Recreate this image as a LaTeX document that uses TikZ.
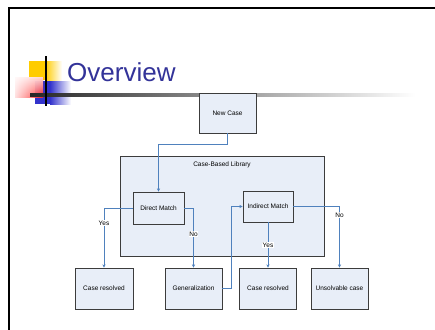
\documentclass[tikz,border=0pt]{standalone}
\usepackage{fontspec}
\setmainfont{Liberation Sans}
\usetikzlibrary{arrows.meta,fadings}
\definecolor{boxfill}{RGB}{232,238,248}
\definecolor{boxline}{RGB}{60,60,60}
\definecolor{flow}{RGB}{79,129,189}
\definecolor{titleblue}{RGB}{51,51,153}
\definecolor{decoyellow}{RGB}{255,204,0}
\definecolor{decored}{RGB}{255,30,30}
\definecolor{decoblue}{RGB}{51,51,204}
\tikzset{
  stepbox/.style={draw=boxline, line width=0.9pt, fill=boxfill, font=\fontsize{6.5}{7.5}\selectfont,
    inner sep=0pt, align=center},
  conn/.style={draw=flow, line width=0.9pt, -{Stealth[length=3.2pt,width=3.2pt]}},
  lbl/.style={fill=white, inner sep=0.6pt, font=\fontsize{6.5}{7.5}\selectfont, text=black},
}
\begin{document}
\begin{tikzpicture}[x=1pt,y=-1pt]
\useasboundingbox (0,0) rectangle (435,329);
\fill[white] (0,0) rectangle (435,329);

% slide frame
\draw[line width=2pt, line cap=rect] (8.5,329) -- (8.5,8.5) -- (435,8.5);

% title decoration
\fill[decoyellow] (29,61) rectangle (45,80);
\shade[left color=decoyellow, right color=white] (45,61) rectangle (62,80);
\fill[decoblue] (35,81) rectangle (50,104);
\shade[left color=decoblue, right color=white] (50,81) rectangle (71,104);
\shade[left color=decored!15, right color=decored, opacity=0.9] (15,77) rectangle (43,97);
\fill[white, path fading=south, opacity=0.8] (15,77) rectangle (43,97);
\shade[left color=black!85, middle color=black!45, right color=white] (30,93) rectangle (415,96);
\draw[line width=1.3pt] (46,56) -- (46,106);

\node[anchor=base west, text=titleblue, font=\fontsize{26}{30}\selectfont, inner sep=0pt]
  (title) at (67,81.5) {Overview};

% library frame
\node[stepbox, minimum width=204pt, minimum height=100pt] (lib) at (222,206) {};
\node[font=\fontsize{6.5}{7.5}\selectfont, inner sep=0pt] (libtitle) at (222,165) {Case-Based Library};

% process boxes
\node[stepbox, minimum width=57pt, minimum height=40pt] (newcase) at (227.5,113) {New Case};
\node[stepbox, minimum width=51pt, minimum height=32pt] (direct) at (158.5,208) {Direct Match};
\node[stepbox, minimum width=50pt, minimum height=31pt] (indirect) at (268,206.5) {Indirect Match};
\node[stepbox, minimum width=58pt, minimum height=41pt] (cr1) at (104,288.5) {Case resolved};
\node[stepbox, minimum width=57pt, minimum height=41pt] (gen) at (193.5,288.5) {Generalization};
\node[stepbox, minimum width=57pt, minimum height=41pt] (cr2) at (268,288.5) {Case resolved};
\node[stepbox, minimum width=57pt, minimum height=41pt] (uns) at (339.5,288.5) {Unsolvable case};

% connectors
\draw[conn] (newcase.south) -- ++(0,11) -| (direct.north);
\draw[conn] (direct.west) -| node[lbl, pos=0.625] (yes1) {Yes} (cr1.north);
\draw[conn] (direct.east) -| node[lbl, pos=0.717] (no1) {No} (gen.north);
\draw[conn] (gen.east) -- ++(9,0) |- (indirect.west);
\draw[conn] (indirect.south) -- node[lbl, pos=0.5] (yes2) {Yes} (cr2.north);
\draw[conn] (indirect.east) -| node[lbl, pos=0.57] (no2) {No} (uns.north);
\end{tikzpicture}
\end{document}
